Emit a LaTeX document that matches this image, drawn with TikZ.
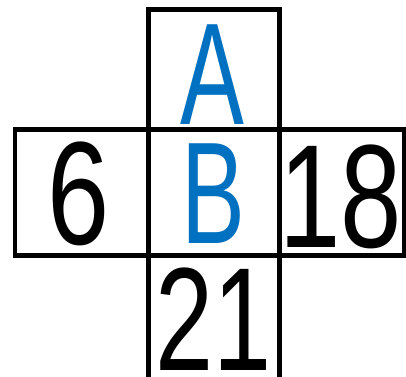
\documentclass[tikz,border=0pt]{standalone}
\usepackage{fontspec}
\setmainfont{Liberation Sans}
\definecolor{lblue}{RGB}{0,112,192}
\begin{document}
\begin{tikzpicture}[x=1pt,y=1pt,
  cellline/.style={line width=4.2pt,line cap=rect},
  letter/.style={anchor=base,inner sep=0pt,text=lblue,font=\fontsize{145}{145}\selectfont},
  digit/.style={anchor=base,inner sep=0pt,text=black,font=\fontsize{147}{147}\selectfont}]
\useasboundingbox (0,0) rectangle (406,376);
\clip (0,0) rectangle (406,376);
\coordinate (tl) at (148.5,366.5);
\coordinate (tr) at (279.5,366.5);
\coordinate (ml) at (15,246.5);
\coordinate (mr) at (404,246.5);
\coordinate (bl) at (15,120.5);
\coordinate (br) at (404,120.5);
\coordinate (ca) at (148.5,246.5);
\coordinate (cb) at (279.5,246.5);
\coordinate (ea) at (148.5,-10);
\coordinate (eb) at (279.5,-10);
% top box
\draw[cellline] (ca) -- (tl) -- (tr) -- (cb);
% middle row
\draw[cellline] (ml) rectangle (br);
\draw[cellline] (tl) -- (ea);
\draw[cellline] (tr) -- (eb);
% texts
\node[letter] (A) at (212,252) {\scalebox{0.66}[1]{A}};
\node[letter] (B) at (213,133) {\scalebox{0.66}[1]{B}};
\node[digit] (six) at (79,132) {\scalebox{0.76}[1]{6}};
\node[digit] (eighteen) at (341,129) {\scalebox{0.75}[1]{18}};
\node[digit] (twentyone) at (214,6) {\scalebox{0.71}[1]{21}};
\end{tikzpicture}
\end{document}
